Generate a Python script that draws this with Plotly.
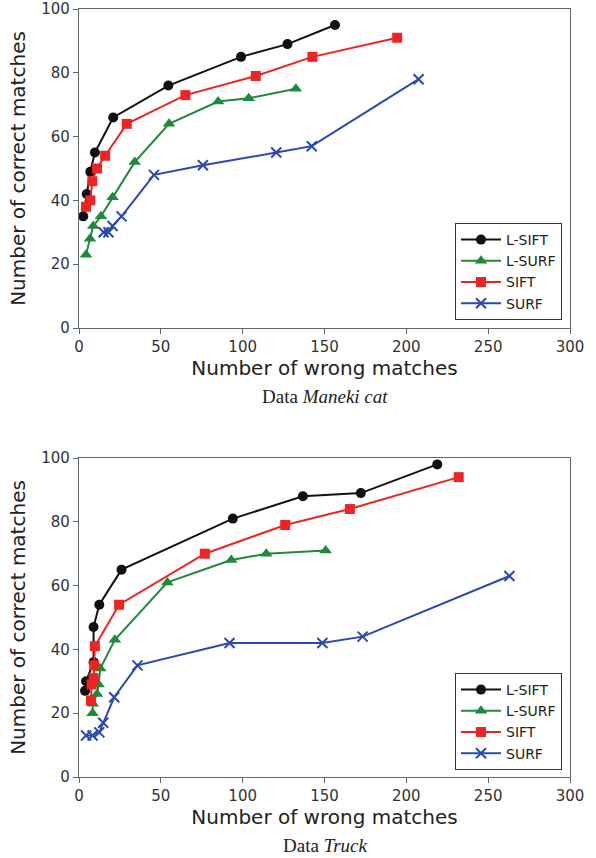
import plotly.graph_objects as go

# ---- Data: Maneki cat (top) ----
cat_lsift_x = [2.6, 4.7, 6.9, 9.7, 20.9, 54.6, 99, 127.4, 156.4]
cat_lsift_y = [35, 42, 49, 55, 66, 76, 85, 89, 95]
cat_lsurf_x = [4.3, 6.7, 8.7, 13.4, 20.5, 34, 55, 85, 103.7, 132.5]
cat_lsurf_y = [23, 28, 32, 35, 41, 52, 64, 71, 72, 75]
cat_sift_x = [4.3, 6.9, 8.1, 11, 16, 29.2, 65, 108, 142.6, 194.4]
cat_sift_y = [38, 40, 46, 50, 54, 64, 73, 79, 85, 91]
cat_surf_x = [15, 18, 20.5, 26, 45.8, 75.7, 120.5, 142.2, 207.5]
cat_surf_y = [30, 30, 32, 35, 48, 51, 55, 57, 78]

# ---- Data: Truck (bottom) ----
truck_lsift_x = [3.7, 4.3, 8.9, 8.9, 12.4, 26, 94, 136.8, 172.2, 218.9]
truck_lsift_y = [27, 30, 36, 47, 54, 65, 81, 88, 89, 98]
truck_lsurf_x = [8.3, 8.5, 11, 12, 13, 21.9, 54, 93, 114.4, 150.7]
truck_lsurf_y = [20, 23, 26, 29, 34, 43, 61, 68, 70, 71]
truck_sift_x = [7.3, 7.7, 8.9, 9.3, 9.7, 24.5, 76.9, 126, 165.5, 232]
truck_sift_y = [24, 29, 31, 35, 41, 54, 70, 79, 84, 94]
truck_surf_x = [4.3, 8.3, 12.4, 14.8, 21.5, 35.7, 92, 148.7, 173.3, 263]
truck_surf_y = [13, 13, 14, 17, 25, 35, 42, 42, 44, 63]

names = ["L-SIFT", "L-SURF", "SIFT", "SURF"]
colors = ["#111111", "#1f8a3c", "#ee2424", "#2a48b0"]
symbols = ["circle", "triangle-up", "square", "x-thin"]
sizes = [10, 11, 10, 10]

x_ticks = [0, 50, 100, 150, 200, 250, 300]
y_ticks = [0, 20, 40, 60, 80, 100]

fig = go.Figure()

top_sets = [(cat_lsift_x, cat_lsift_y), (cat_lsurf_x, cat_lsurf_y),
            (cat_sift_x, cat_sift_y), (cat_surf_x, cat_surf_y)]
bot_sets = [(truck_lsift_x, truck_lsift_y), (truck_lsurf_x, truck_lsurf_y),
            (truck_sift_x, truck_sift_y), (truck_surf_x, truck_surf_y)]

def add_series(sets, xa, ya, legend):
    for (xs, ys), n, c, s, sz in zip(sets, names, colors, symbols, sizes):
        marker = dict(symbol=s, size=sz, color=c, line=dict(width=0))
        if s == "x-thin":
            marker = dict(symbol=s, size=sz, color=c, line=dict(color=c, width=2))
        fig.add_trace(go.Scatter(
            x=xs, y=ys, name=n, mode="lines+markers",
            line=dict(color=c, width=2), marker=marker,
            xaxis=xa, yaxis=ya, legend=legend))

add_series(top_sets, "x", "y", "legend")
add_series(bot_sets, "x2", "y2", "legend2")

axis_common = dict(
    showgrid=False, zeroline=False, showline=True, mirror=True, automargin=False,
    linecolor="#666666", linewidth=1.2, ticks="outside", ticklen=5,
    tickcolor="#666666", tickfont=dict(family="DejaVu Sans", size=15, color="#333333"),
)

W, H = 596, 858
ml, mr, mt, mb = 79, 26, 9, 81
pw = W - ml - mr
ph = H - mt - mb
top_low = (777 - 328) / ph
bot_high = (777 - 458) / ph

xtitle = dict(text="Number of wrong matches",
              font=dict(family="DejaVu Sans", size=20, color="#222222"), standoff=2)
ytitle = dict(text="Number of correct matches",
              font=dict(family="DejaVu Sans", size=20, color="#222222"), standoff=10)

legend_common = dict(xanchor="right", yanchor="bottom",
                     bordercolor="#333333", borderwidth=1, bgcolor="white",
                     font=dict(family="DejaVu Sans", size=14, color="#222222"),
                     itemwidth=40, tracegroupgap=0)

fig.update_layout(
    width=W, height=H, margin=dict(l=ml, r=mr, t=mt, b=mb),
    paper_bgcolor="white", plot_bgcolor="white",
    xaxis=dict(domain=[0, 1], anchor="y", range=[0, 300], tickvals=x_ticks, title=xtitle, **axis_common),
    yaxis=dict(domain=[top_low, 1], anchor="x", range=[0, 100], tickvals=y_ticks, title=ytitle, **axis_common),
    xaxis2=dict(domain=[0, 1], anchor="y2", range=[0, 300], tickvals=x_ticks, title=xtitle, **axis_common),
    yaxis2=dict(domain=[0, bot_high], anchor="x2", range=[0, 100], tickvals=y_ticks, title=ytitle, **axis_common),
    legend=dict(x=(562 - ml) / pw, y=(777 - 320) / ph, **legend_common),
    legend2=dict(x=(562 - ml) / pw, y=(777 - 770) / ph, **legend_common),
    showlegend=True,
)

fig.add_annotation(text="Data <i>Maneki cat</i>", xref="paper", yref="paper",
                   x=0.5, y=(777 - 396) / ph, xanchor="center", yanchor="middle", showarrow=False,
                   font=dict(family="Liberation Serif", size=19, color="#222222"))
fig.add_annotation(text="Data <i>Truck</i>", xref="paper", yref="paper",
                   x=0.5, y=(777 - 845) / ph, xanchor="center", yanchor="middle", showarrow=False,
                   font=dict(family="Liberation Serif", size=19, color="#222222"))

fig.write_html("out.html", config={"displayModeBar": False},
               post_script="document.body.style.margin='0';document.body.style.overflow='hidden';")
